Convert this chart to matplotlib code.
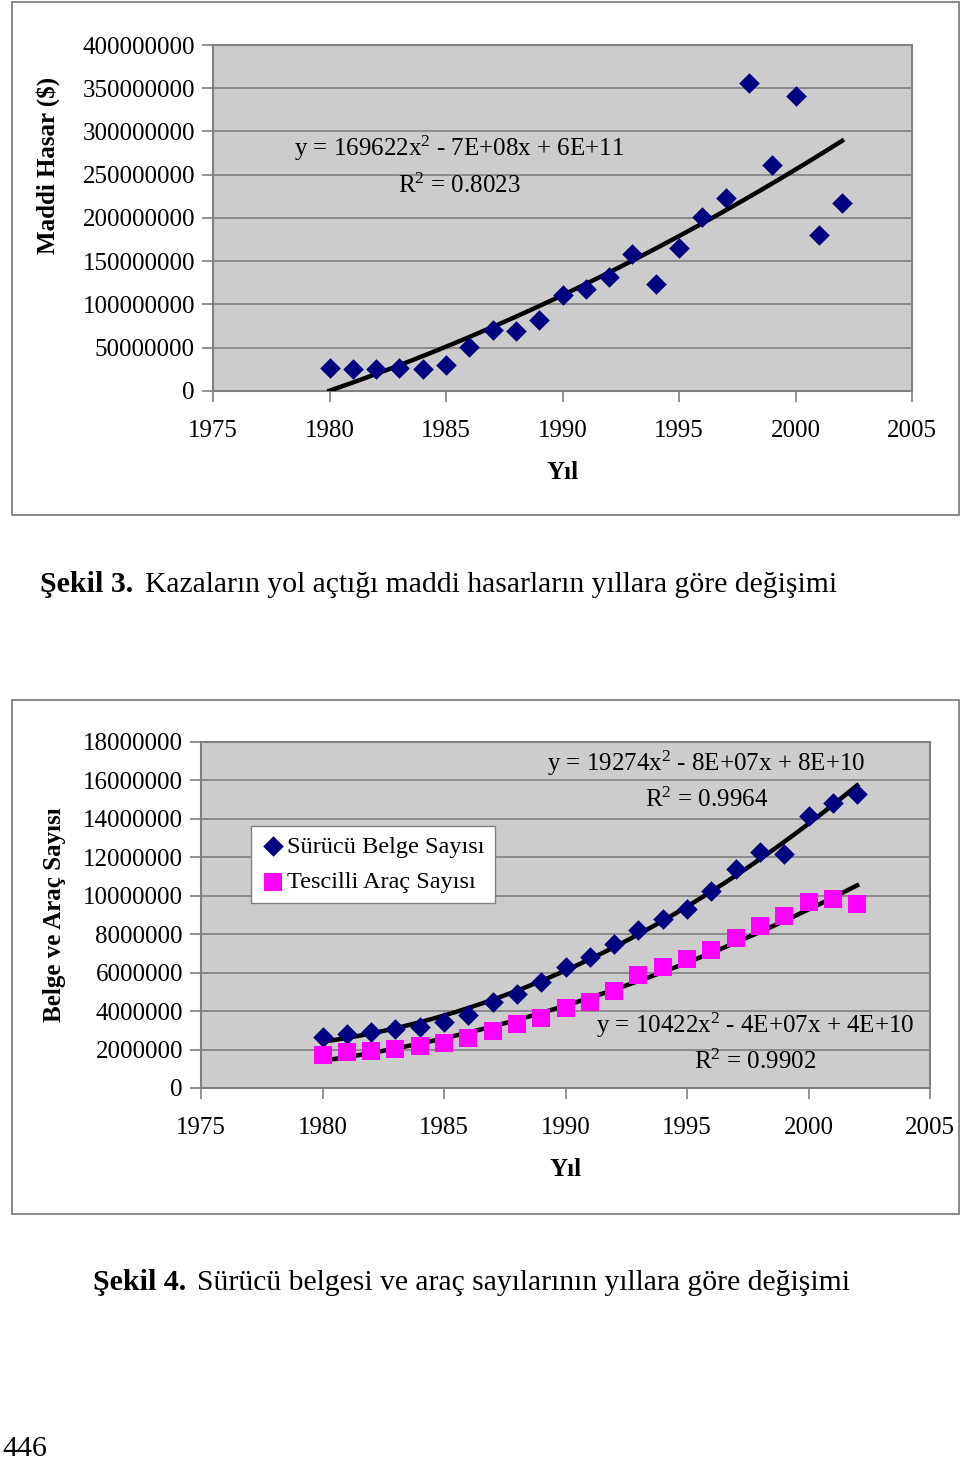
import numpy as np
import matplotlib
matplotlib.use("Agg")
import matplotlib.pyplot as plt
from matplotlib.patches import Rectangle

plt.rcParams['font.family'] = ['Liberation Serif', 'DejaVu Serif']
plt.rcParams['mathtext.fontset'] = 'custom'
plt.rcParams['mathtext.rm'] = 'Liberation Serif'
plt.rcParams['mathtext.it'] = 'Liberation Serif'

# ---- Veri: Şekil 3 (maddi hasar) ----
years = list(range(1980, 2003))
maddi_hasar = [26.9e6, 25.8e6, 25.8e6, 26.9e6, 25.8e6, 30.0e6, 51.0e6, 70.0e6,
               69.0e6, 82.0e6, 111.5e6, 118.0e6, 132.0e6, 158.0e6, 124.0e6,
               165.0e6, 201.5e6, 223.0e6, 356.0e6, 261.5e6, 341.5e6, 180.0e6,
               217.0e6]

# ---- Veri: Şekil 4 (sürücü belgesi ve araç) ----
surucu_belge = [2.66e6, 2.83e6, 2.93e6, 3.07e6, 3.19e6, 3.45e6, 3.82e6, 4.46e6,
                4.91e6, 5.52e6, 6.27e6, 6.81e6, 7.47e6, 8.21e6, 8.78e6, 9.32e6,
                10.24e6, 11.37e6, 12.27e6, 12.15e6, 14.15e6, 14.81e6, 15.31e6]
tescilli_arac = [1.74e6, 1.86e6, 1.91e6, 2.03e6, 2.20e6, 2.34e6, 2.60e6, 2.95e6,
                 3.35e6, 3.65e6, 4.15e6, 4.50e6, 5.07e6, 5.87e6, 6.28e6, 6.72e6,
                 7.17e6, 7.81e6, 8.45e6, 8.94e6, 9.67e6, 9.84e6, 9.57e6]

x_ticks = [1975, 1980, 1985, 1990, 1995, 2000, 2005]
y1_ticks = list(range(0, 400000001, 50000000))
y2_ticks = list(range(0, 18000001, 2000000))

W, H = 960, 1463
fig = plt.figure(figsize=(W / 100, H / 100), dpi=100)

BG = '#cccccc'
GRID = '#808080'
NAVY = '#000080'
PINK = '#ff00ff'


def fx(px):
    return px / W


def fy(py):
    return 1 - py / H


def panel_box(x0, y0, x1, y1):
    fig.patches.append(Rectangle((fx(x0), fy(y1)), fx(x1) - fx(x0), fy(y0) - fy(y1),
                                 transform=fig.transFigure, fill=False,
                                 edgecolor='#808080', linewidth=1.3))


def style_axes(ax, yticks, ymax):
    ax.set_facecolor(BG)
    ax.set_xlim(1975, 2005)
    ax.set_ylim(0, ymax)
    ax.set_xticks(x_ticks)
    ax.set_yticks(yticks)
    ax.set_yticklabels([str(v) for v in yticks])
    ax.yaxis.grid(True, color=GRID, linewidth=1.2)
    ax.set_axisbelow(True)
    for s in ax.spines.values():
        s.set_color(GRID)
        s.set_linewidth(1.5)
    ax.tick_params(axis='both', direction='out', length=8, width=1.2,
                   color=GRID, labelsize=18, labelcolor='black')
    ax.tick_params(axis='x', pad=13)
    ax.tick_params(axis='y', pad=5)


def trend(ax, y):
    p = np.polynomial.Polynomial.fit(years, y, 2)
    xs = np.linspace(years[0], years[-1], 200)
    ax.plot(xs, p(xs), color='black', linewidth=3.2, zorder=3)


# ---- Şekil 3 ----
panel_box(12, 2, 959, 515)
ax1 = fig.add_axes([fx(213), fy(391), fx(912) - fx(213), fy(45) - fy(391)])
style_axes(ax1, y1_ticks, 400000000)
ax1.scatter(years, maddi_hasar, marker='D', s=110, color=NAVY, zorder=4, linewidths=0)
trend(ax1, maddi_hasar)
ax1.text(0.352, 0.700, 'y = 169622x$^{2}$ - 7E+08x + 6E+11', transform=ax1.transAxes,
         ha='center', va='center', fontsize=18)
ax1.text(0.352, 0.594, 'R$^{2}$ = 0.8023', transform=ax1.transAxes,
         ha='center', va='center', fontsize=18)
fig.text(fx(48), fy(165), 'Maddi Hasar ($)', rotation=90, ha='center', va='center',
         fontsize=18, fontweight='bold')
fig.text(fx(563), fy(473), 'Yıl', ha='center', va='center', fontsize=18, fontweight='bold')

fig.text(fx(40), fy(585), 'Şekil 3.', ha='left', va='center', fontsize=21.5,
         fontweight='bold')
fig.text(fx(145), fy(585), 'Kazaların yol açtığı maddi hasarların yıllara göre değişimi',
         ha='left', va='center', fontsize=21.3)

# ---- Şekil 4 ----
panel_box(12, 700, 959, 1214)
ax2 = fig.add_axes([fx(201), fy(1088), fx(930) - fx(201), fy(742) - fy(1088)])
style_axes(ax2, y2_ticks, 18000000)
ax2.scatter(years, surucu_belge, marker='D', s=110, color=NAVY, zorder=4,
            linewidths=0, label='Sürücü Belge Sayısı')
ax2.scatter(years, tescilli_arac, marker='s', s=150, color=PINK, zorder=4,
            linewidths=0, label='Tescilli Araç Sayısı')
trend(ax2, surucu_belge)
trend(ax2, tescilli_arac)
ax2.text(0.693, 0.939, 'y = 19274x$^{2}$ - 8E+07x + 8E+10', transform=ax2.transAxes,
         ha='center', va='center', fontsize=18)
ax2.text(0.693, 0.832, 'R$^{2}$ = 0.9964', transform=ax2.transAxes,
         ha='center', va='center', fontsize=18)
ax2.text(0.760, 0.182, 'y = 10422x$^{2}$ - 4E+07x + 4E+10', transform=ax2.transAxes,
         ha='center', va='center', fontsize=18)
ax2.text(0.760, 0.075, 'R$^{2}$ = 0.9902', transform=ax2.transAxes,
         ha='center', va='center', fontsize=18)
leg = ax2.legend(loc='upper left', bbox_to_anchor=((251 - 201) / 729, (1088 - 826) / 346),
                 fontsize=17.5, frameon=True, fancybox=False, framealpha=1,
                 edgecolor=GRID, handletextpad=0.1, handlelength=1.0,
                 borderpad=0.4, labelspacing=0.55, borderaxespad=0)
leg.get_frame().set_linewidth(1.0)
fig.text(fx(55), fy(915), 'Belge ve Araç Sayısı', rotation=90, ha='center', va='center',
         fontsize=18, fontweight='bold')
fig.text(fx(566), fy(1170), 'Yıl', ha='center', va='center', fontsize=18, fontweight='bold')

fig.text(fx(93), fy(1283), 'Şekil 4.', ha='left', va='center', fontsize=21.5,
         fontweight='bold')
fig.text(fx(197), fy(1283), 'Sürücü belgesi ve araç sayılarının yıllara göre değişimi',
         ha='left', va='center', fontsize=21.3)

fig.text(fx(2), fy(1449), '446', ha='left', va='center', fontsize=21.5)

fig.savefig('out.png', dpi=100)
